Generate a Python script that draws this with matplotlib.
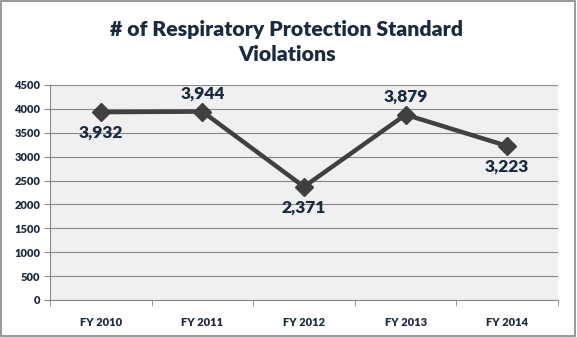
import matplotlib
matplotlib.use("Agg")
import matplotlib.pyplot as plt
from matplotlib.patches import Rectangle

years = ["FY 2010", "FY 2011", "FY 2012", "FY 2013", "FY 2014"]
violations = [3932, 3944, 2371, 3879, 3223]
label_above = [False, True, False, True, False]

TEXT = "#1b2a3e"
plt.rcParams["font.family"] = ["Lato", "DejaVu Sans"]

fig = plt.figure(figsize=(5.77, 3.37), dpi=100)
ax = fig.add_axes([50 / 577, 1 - 300 / 337, 508 / 577, 215 / 337])
ax.set_facecolor("#f0f0f0")

x = list(range(len(years)))
ax.plot(x, violations, color="#404040", lw=3.2, marker="D", ms=9,
        markerfacecolor="#404040", markeredgecolor="#404040", zorder=3)

for xi, v, up in zip(x, violations, label_above):
    off = 13 if up else -15
    ax.annotate(f"{v:,}", (xi, v), xytext=(0, off), textcoords="offset points",
                ha="center", va="center", fontsize=12.5, fontweight="heavy", color=TEXT)

ax.set_xlim(-0.5, len(years) - 0.5)
ax.set_ylim(0, 4500)
ax.set_yticks(range(0, 4501, 500))
ax.set_xticks(x)
ax.set_xticklabels(years)
ax.set_xticks([i - 0.5 for i in range(len(years) + 1)], minor=True)
ax.tick_params(axis="x", which="major", length=0, pad=12)
ax.tick_params(axis="x", which="minor", length=4, color="#888888")
ax.tick_params(axis="y", length=4, color="#888888", pad=3)
for lab in ax.get_xticklabels() + ax.get_yticklabels():
    lab.set_fontsize(8)
    lab.set_fontweight("heavy")
    lab.set_color(TEXT)

ax.grid(axis="y", color="#888888", lw=0.8)
ax.set_axisbelow(True)
for side in ["top", "right"]:
    ax.spines[side].set_visible(False)
ax.spines["left"].set_color("#888888")
ax.spines["bottom"].set_color("#888888")

fig.text(0.497, 0.875, "# of Respiratory Protection Standard\nViolations", ha="center",
         va="center", fontsize=15.3, fontweight="heavy", color=TEXT, linespacing=1.4)

fig.patches.append(Rectangle((0.002, 0.003), 0.995, 0.994, transform=fig.transFigure,
                             fill=False, edgecolor="#888888", lw=1.2))

fig.savefig("out.png", dpi=100)
